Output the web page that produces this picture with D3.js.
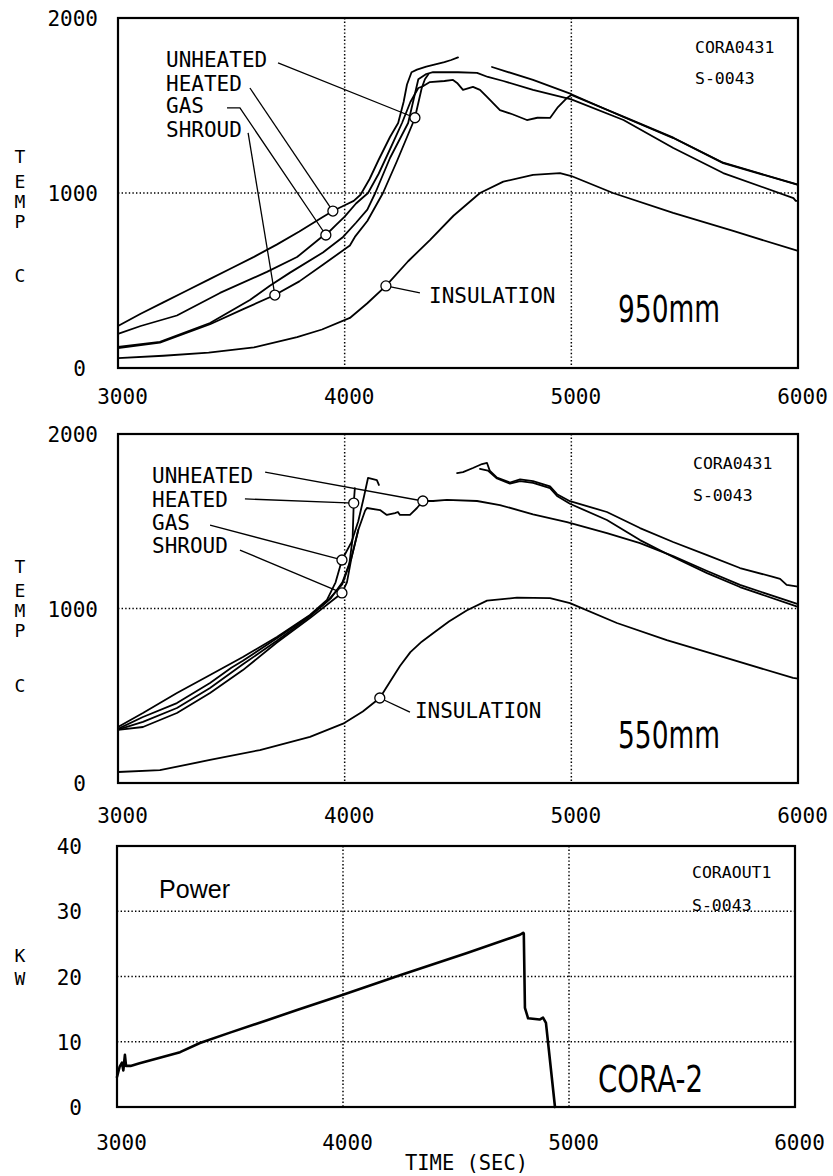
<!DOCTYPE html>
<html><head><meta charset="utf-8">
<script src="https://cdn.jsdelivr.net/npm/d3@7"></script>
<style>html,body{margin:0;padding:0;background:#fff}</style>
</head><body>
<svg id="c" width="833" height="1176"></svg>
<script>
// ---------- tick values ----------
const timeTicks = [3000, 4000, 5000, 6000];
const tempTicks = [0, 1000, 2000];
const powerTicks = [0, 10, 20, 30, 40];
const tempGrid = [1000];
const powerGrid = [10, 20, 30];
const timeGrid = [4000, 5000];

// ---------- 950 mm (top) : [time s, temp C] ----------
const top_heated = [[3000,240],[3100,310],[3200,375],[3300,440],[3400,505],[3500,570],[3600,635],[3700,705],[3800,780],[3900,860],[3948,897],[4000,930],[4040,955],[4070,990],[4110,1080],[4150,1190],[4200,1320],[4236,1400],[4260,1520],[4275,1620],[4295,1690],[4319,1705],[4360,1722],[4400,1735],[4440,1748],[4470,1760],[4500,1775]];
const top_gas = [[3000,195],[3100,240],[3260,300],[3450,429],[3657,549],[3790,634],[3904,754],[3917,760],[3960,815],[4000,865],[4050,940],[4103,1000],[4150,1110],[4200,1250],[4253,1400],[4290,1520],[4325,1600],[4345,1610],[4376,1634],[4440,1640],[4478,1646],[4496,1629],[4522,1589],[4566,1606],[4597,1589],[4628,1549],[4685,1474],[4740,1450],[4804,1417],[4850,1430],[4906,1429],[4941,1491],[4981,1543],[5000,1560],[5230,1436],[5450,1316],[5670,1173],[6000,1048]];
const top_unheated = [[3000,120],[3185,149],[3406,257],[3582,389],[3670,470],[3759,545],[3904,660],[3993,749],[4050,830],[4100,905],[4135,1000],[4200,1200],[4280,1400],[4325,1650],[4360,1680],[4390,1691],[4500,1690],[4584,1686],[4632,1663],[4700,1640],[4831,1589],[5000,1535],[5230,1417],[5450,1257],[5670,1114],[5980,971],[5990,955],[6000,955]];
const top_shroud = [[3000,114],[3185,145],[3406,250],[3550,335],[3692,417],[3800,495],[3904,590],[4023,700],[4045,749],[4100,840],[4169,1000],[4230,1180],[4301,1400],[4310,1430],[4340,1600],[4354,1650],[4370,1680],null,[4650,1720],[4831,1646],[4998,1566],[5230,1434],[5450,1314],[5670,1171],[6000,1046]];
const top_insulation = [[3000,57],[3200,70],[3400,88],[3600,118],[3790,177],[3900,220],[4023,286],[4100,370],[4182,469],[4280,610],[4376,731],[4480,870],[4597,1000],[4700,1065],[4831,1103],[4950,1114],[5000,1097],[5184,1000],[5449,886],[5714,783],[6000,669]];

// ---------- 550 mm (middle) ----------
const mid_gas = [[3000,321],[3110,401],[3260,516],[3406,619],[3551,722],[3701,837],[3847,963],[3922,1049],[3960,1150],[3988,1278],[4030,1380],[4060,1500],[4085,1640],[4103,1748],[4142,1736],[4151,1708],null,[4496,1776],[4522,1782],[4566,1805],[4606,1828],[4628,1834],[4640,1790],[4672,1750],[4729,1722],[4774,1740],[4831,1730],[4906,1700],[4937,1655],[4994,1615],[5157,1553],[5303,1461],[5449,1381],[5599,1306],[5744,1232],[5890,1181],[5921,1170],[5950,1135],[6000,1125]];
const mid_heated = [[3000,310],[3110,378],[3260,458],[3406,573],[3500,660],[3551,700],[3701,830],[3847,960],[3922,1040],[3990,1140],[4020,1250],[4035,1400],[4040,1604],[4045,1690]];
const mid_unheated = [[3000,306],[3110,350],[3260,430],[3406,545],[3551,680],[3701,815],[3847,955],[3940,1060],[3990,1150],[4030,1290],[4060,1450],[4090,1560],[4098,1576],[4156,1564],[4186,1536],[4222,1547],[4235,1553],[4244,1536],[4288,1536],[4319,1576],[4345,1616],[4390,1616],[4451,1622],[4584,1616],[4685,1593],[4831,1540],[4981,1495],[5157,1432],[5303,1375],[5449,1300],[5599,1215],[5744,1135],[6000,1025]];
const mid_shroud = [[3000,304],[3110,321],[3260,401],[3406,516],[3551,647],[3701,805],[3847,945],[3940,1040],[3988,1089],[4010,1150],[4030,1290],[4060,1450],null,[4597,1800],[4632,1790],[4672,1745],[4729,1716],[4774,1730],[4831,1720],[4906,1690],[4937,1645],[4994,1600],[5157,1507],[5303,1392],[5449,1295],[5599,1203],[5744,1123],[6000,1009]];
const mid_insulation = [[3000,63],[3185,74],[3406,132],[3626,189],[3847,264],[3993,340],[4080,410],[4155,487],[4200,580],[4244,670],[4290,750],[4340,810],[4390,858],[4460,925],[4540,990],[4628,1045],[4760,1062],[4906,1060],[4994,1031],[5201,917],[5421,819],[5643,733],[5978,602],[6000,598]];

// ---------- power (bottom) : [time s, kW] ----------
const power = [[3000,4.6],[3012,6.2],[3022,6.8],[3028,5.6],[3035,8.0],[3040,6.3],[3060,6.3],[3100,6.7],[3279,8.4],[3367,9.8],[3500,11.4],[3664,13.3],[3800,14.9],[4000,17.2],[4252,20.2],[4549,23.6],[4783,26.4],[4797,26.7],[4800,26.6],[4805,15.2],[4819,13.6],[4870,13.4],[4885,13.7],[4898,12.9],[4938,0]];

// ---------- annotations (data units) ----------
const curveNames = ["UNHEATED", "HEATED", "GAS", "SHROUD"];
const topNameAnchors = [[3212,1720],[3212,1583],[3212,1457],[3212,1320]];
const topMarkers = [[4310,1430],[3948,897],[3917,760],[3692,417]];
const topLeaderStarts = [[[3706,1743]],[[3582,1600]],[[3481,1486],[3538,1486]],[[3574,1343]]];
const topInsulMarker = [4182,469], topInsulLeaderEnd = [4332,429], topInsulAnchor = [4372,371];

const midNameAnchors = [[3150,1719],[3150,1582],[3150,1450],[3150,1318]];
const midMarkers = [[4345,1616],[4040,1604],[3988,1278],[3988,1089]];
const midLeaderStarts = [[[3649,1782]],[[3560,1628]],[[3406,1478]],[[3538,1335]]];
const midInsulMarker = [4155,487], midInsulLeaderEnd = [4288,406], midInsulAnchor = [4310,372];

// ---------- drawing ----------
const MONO = "'DejaVu Sans Mono', monospace";
const svg = d3.select("#c");
svg.append("rect").attr("width",833).attr("height",1176).attr("fill","#fff");

function drawPanel(cfg){
  const x = d3.scaleLinear().domain([3000,6000]).range([cfg.x0,cfg.x1]);
  const y = d3.scaleLinear().domain(cfg.yDomain).range([cfg.y1,cfg.y0]);
  const g = svg.append("g");
  const dot = {stroke:"#000", w:1.5, dash:"1.4,2.2"};
  g.selectAll(".vg").data(timeGrid).join("line")
    .attr("x1",d=>x(d)).attr("x2",d=>x(d)).attr("y1",cfg.y0).attr("y2",cfg.y1)
    .attr("stroke",dot.stroke).attr("stroke-width",dot.w).attr("stroke-dasharray",dot.dash);
  g.selectAll(".hg").data(cfg.hGrid).join("line")
    .attr("x1",cfg.x0).attr("x2",cfg.x1).attr("y1",d=>y(d)).attr("y2",d=>y(d))
    .attr("stroke",dot.stroke).attr("stroke-width",dot.w).attr("stroke-dasharray",dot.dash);

  const line = d3.line().defined(d=>d!==null).x(d=>x(d[0])).y(d=>y(d[1]));
  cfg.series.forEach(s=>{
    g.append("path").attr("d",line(s)).attr("fill","none").attr("stroke","#000")
      .attr("stroke-width",cfg.lw).attr("stroke-linejoin","round").attr("stroke-linecap","round");
  });

  if(cfg.names){
    const ll = d3.line().x(d=>x(d[0])).y(d=>y(d[1]));
    cfg.names.forEach((nm,i)=>{
      g.append("text").attr("x",x(cfg.nameAnchors[i][0])).attr("y",y(cfg.nameAnchors[i][1]))
        .attr("font-family",MONO).attr("font-size",21).attr("fill","#000").text(nm);
      g.append("path").attr("d",ll(cfg.leaderStarts[i].concat([cfg.markers[i]])))
        .attr("fill","none").attr("stroke","#000").attr("stroke-width",1.3);
    });
    g.append("path").attr("d",ll([cfg.insulMarker,cfg.insulLeaderEnd]))
      .attr("fill","none").attr("stroke","#000").attr("stroke-width",1.3);
    g.append("text").attr("x",x(cfg.insulAnchor[0])).attr("y",y(cfg.insulAnchor[1]))
      .attr("font-family",MONO).attr("font-size",21).attr("fill","#000").text("INSULATION");
    g.selectAll(".mk").data(cfg.markers.concat([cfg.insulMarker])).join("circle")
      .attr("cx",d=>x(d[0])).attr("cy",d=>y(d[1])).attr("r",5)
      .attr("fill","#fff").attr("stroke","#000").attr("stroke-width",1.3);
  }

  g.append("rect").attr("x",cfg.x0).attr("y",cfg.y0).attr("width",cfg.x1-cfg.x0).attr("height",cfg.y1-cfg.y0)
    .attr("fill","none").attr("stroke","#000").attr("stroke-width",2.2);

  const xa = g.append("g").attr("transform",`translate(4,${cfg.xLabelY})`)
    .call(d3.axisBottom(x).tickValues(timeTicks).tickSize(0).tickPadding(0).tickFormat(d3.format("d")));
  xa.select(".domain").remove();
  xa.selectAll("text").attr("y",0).attr("dy","0.36em").attr("font-family",MONO).attr("font-size",21).attr("fill","#000");

  const ya = g.append("g").attr("transform",`translate(${cfg.yLabelX},0)`)
    .call(d3.axisLeft(y).tickValues(cfg.yTicks).tickSize(0).tickPadding(0).tickFormat(d3.format("d")));
  ya.select(".domain").remove();
  ya.selectAll("text").attr("x",cfg.yLabelDx).attr("dy","0.36em").attr("font-family",MONO).attr("font-size",21).attr("fill","#000");

  cfg.titleLetters.forEach((c,i)=>{
    g.append("text").attr("x",20).attr("y",cfg.titleY[i]).attr("text-anchor","middle")
      .attr("font-family",MONO).attr("font-size",18).attr("fill","#000").text(c);
  });

  cfg.ids.forEach((t,i)=>{
    g.append("text").attr("x",cfg.idX).attr("y",cfg.idY[i]).attr("font-family",MONO)
      .attr("font-size",16.5).attr("fill","#000").text(t);
  });

  g.append("text").attr("x",cfg.big.x).attr("y",cfg.big.y).attr("font-family","'DejaVu Sans', sans-serif")
    .attr("font-size",cfg.big.size).attr("textLength",cfg.big.len).attr("lengthAdjust","spacingAndGlyphs")
    .attr("fill","#000").text(cfg.big.text);
  return {x,y,g};
}

drawPanel({
  x0:118,x1:798,y0:18,y1:368,yDomain:[0,2000],yTicks:tempTicks,hGrid:tempGrid,lw:1.8,
  series:[top_heated,top_gas,top_unheated,top_shroud,top_insulation],
  names:curveNames,nameAnchors:topNameAnchors,markers:topMarkers,leaderStarts:topLeaderStarts,
  insulMarker:topInsulMarker,insulLeaderEnd:topInsulLeaderEnd,insulAnchor:topInsulAnchor,
  xLabelY:396,yLabelX:98,yLabelDx:d=>d===0?-12:0,
  titleLetters:["T","E","M","P","C"],titleY:[163,188,208,228,282],
  ids:["CORA0431","S-0043"],idX:695,idY:[53,84],
  big:{text:"950mm",x:618,y:322,size:38,len:102}
});
drawPanel({
  x0:118,x1:798,y0:434,y1:783,yDomain:[0,2000],yTicks:tempTicks,hGrid:tempGrid,lw:1.8,
  series:[mid_gas,mid_heated,mid_unheated,mid_shroud,mid_insulation],
  names:curveNames,nameAnchors:midNameAnchors,markers:midMarkers,leaderStarts:midLeaderStarts,
  insulMarker:midInsulMarker,insulLeaderEnd:midInsulLeaderEnd,insulAnchor:midInsulAnchor,
  xLabelY:815,yLabelX:98,yLabelDx:d=>d===0?-12:0,
  titleLetters:["T","E","M","P","C"],titleY:[573,597,617,637,692],
  ids:["CORA0431","S-0043"],idX:693,idY:[469,501],
  big:{text:"550mm",x:618,y:748,size:38,len:102}
});
const p3 = drawPanel({
  x0:117,x1:795,y0:846,y1:1107,yDomain:[0,40],yTicks:powerTicks,hGrid:powerGrid,lw:2.6,
  series:[power],
  xLabelY:1142,yLabelX:82,yLabelDx:0,
  titleLetters:["K","W"],titleY:[962,985],
  ids:["CORAOUT1","S-0043"],idX:692,idY:[878,911],
  big:{text:"CORA-2",x:598,y:1092,size:37,len:105}
});
p3.g.append("text").attr("x",159).attr("y",898).attr("font-family","'Liberation Sans', sans-serif")
  .attr("font-size",25).attr("textLength",71).attr("lengthAdjust","spacingAndGlyphs").attr("fill","#000").text("Power");
svg.append("text").attr("x",405).attr("y",1170).attr("font-family",MONO).attr("font-size",21)
  .attr("textLength",123).attr("lengthAdjust","spacingAndGlyphs").attr("fill","#000").text("TIME (SEC)");
</script>
</body></html>
